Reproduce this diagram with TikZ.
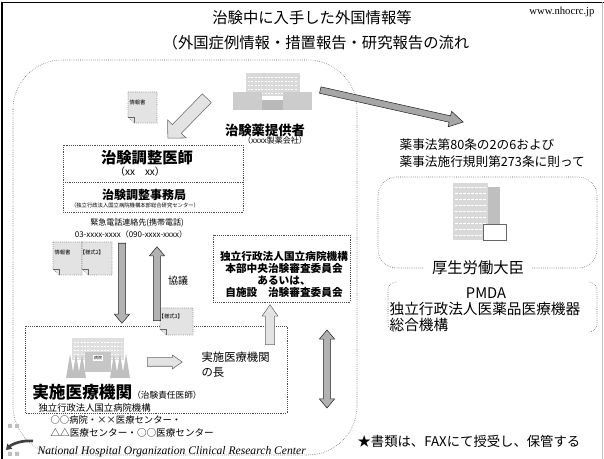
\documentclass[tikz,border=0pt]{standalone}
\usepackage{fontspec}
\setmainfont{Noto Sans CJK JP}
\newfontfamily\webfont{Liberation Serif}
\usetikzlibrary{arrows.meta,shapes.arrows,calc}

\newcommand{\fsz}[1]{\fontsize{#1}{#1}\selectfont}

% fat arrow from one point to another
\newcommand{\blockarrow}[4][]{%
  \path let \p1=($(#4)-(#3)$), \n1={atan2(\y1,\x1)}, \n2={veclen(\x1,\y1)} in
    node[single arrow, anchor=tail, rotate=\n1, minimum height=\n2, #1] (#2) at (#3) {};}
\newcommand{\blockarrows}[4][]{%
  \path let \p1=($(#4)-(#3)$), \n1={atan2(\y1,\x1)}, \n2={veclen(\x1,\y1)} in
    node[double arrow, anchor=center, rotate=\n1, minimum height=\n2, #1] (#2) at ($(#3)!0.5!(#4)$) {};}

% sheet of paper with the corner folded
\newcommand{\docsheet}[6]{%
  \draw[paper] (#2,#3) -- (#4,#3) -- (#4,#5) -- (#2+6,#5) -- (#2,#5-6) -- cycle;
  \draw[black!60] (#2,#5-6) -- (#2+6,#5-6) -- (#2+6,#5);
  \node[font=\fsz{4}] (#1) at ($(#2,#3)!0.33!(#4,#5)$) {#6};}

\begin{document}
\begin{tikzpicture}[x=0.75pt, y=-0.75pt,
  every node/.style={inner sep=1pt},
  dots/.style={densely dotted, draw=black!70},
  paper/.style={densely dotted, draw=black!60, fill=gray!22},
  lite/.style 2 args={single arrow, draw=black!60, fill=gray!22, inner sep=0pt,
    text height=#1, text depth=0pt, minimum width=0pt,
    single arrow head extend=#2, single arrow head indent=0pt},
  dark/.style 2 args={lite={#1}{#2}, draw=black!85, fill=gray!60},
  twoway/.style 2 args={double arrow, draw=black!85, fill=gray!60, inner sep=0pt,
    text height=#1, text depth=0pt, minimum width=0pt,
    double arrow head extend=#2, double arrow head indent=0pt, double arrow tip angle=80}]

\useasboundingbox (0,0) rectangle (604,459);
\draw[line width=1.2pt] (2,459) -- (2,2.5) -- (604,2.5);
\draw[gray!50] (602,2.5) -- (602,459);

\node[font=\fsz{11.5}] (title1) at (312,18) {治験中に入手した外国情報等};
\node[font=\fsz{11.5}] (title2) at (316,43) {（外国症例情報・措置報告・研究報告の流れ};
\node[font=\webfont\fsz{8}] (web) at (562,12) {www.nhocrc.jp};

% trial side
\draw[dots, rounded corners=37pt] (13,60) rectangle (357,455);

% provider building
\fill[gray!30] (246,73) rectangle (300,96);
\foreach \y in {77,81,...,93} \draw[white, dash pattern=on 1.5pt off 1pt] (248,\y) -- (298,\y);
\fill[gray!40] (233,92) rectangle (262,110);
\fill[gray!40] (283,92) rectangle (312,110);
\fill[gray!55] (262,100) rectangle (283,110);
\node[font=\bfseries\fsz{10}] (maker) at (265,130) {治験薬提供者};
\node[font=\fsz{6}] (makerco) at (275,140) {（xxxx製薬会社）};

% coordinating investigator
\draw[dots] (63,145) rectangle (243,212) (63,182) -- (243,182);
\node[font=\bfseries\fsz{11.5}] (coord) at (147,158) {治験調整医師};
\node[font=\fsz{7.5}] (coordname) at (140,172) {（xx　xx）};
\node[font=\bfseries\fsz{9}] (office) at (144,195) {治験調整事務局};
\node[font=\fsz{4}] (officesub) at (135,205) {（独立行政法人国立病院機構本部総合研究センター）};
\node[font=\fsz{6}] (tel) at (137,223) {緊急電話連絡先(携帯電話)};
\node[font=\fsz{6}] (telno) at (131,234) {03-xxxx-xxxx（090-xxxx-xxxx）};

\docsheet{info1}{128}{92}{157}{123}{情報書}
\docsheet{info2}{53}{242}{82}{275}{情報書}
\docsheet{form2}{82}{242}{112}{275}{【様式2】}

% review board
\draw[dots] (213,235) rectangle (350,302);
\node[font=\bfseries\fontsize{8}{9.2}\selectfont, align=center] (irb) at (284,274.5)
  {独立行政法人国立病院機構\\本部中央治験審査委員会\\あるいは、\\自施設　治験審査委員会};

% site
\draw[dots] (25,326) rectangle (287,413);
\fill[gray!25] (72,338) rectangle (124,360);
\foreach \y in {342,346,...,358} \draw[white, dash pattern=on 1.5pt off 1pt] (74,\y) -- (122,\y);
\fill[gray!45] (85,352) rectangle (111,372);
\foreach \x in {66,72,78,110,116,122} \fill[gray!50] (\x,378) -- (\x+4,354) -- (\x+8,378) -- cycle;
\node[font=\fsz{3}, fill=white, inner sep=0.5pt] (hospsign) at (98,358) {病院};
\docsheet{form3}{160}{308}{193}{335}{【様式3】}
\node[font=\fsz{7.5}] (talk) at (178,281) {協議};

\node[font=\fontsize{8.5}{11.25}\selectfont, align=left, anchor=west] (head) at (200,364.5) {実施医療機関\\の長};
\node[anchor=west, inner sep=0pt] (site) at (32,392) {{\bfseries\fsz{12.5}実施医療機関}{\fsz{6.5}（治験責任医師）}};
\node[anchor=west, font=\fsz{7}] (nho) at (37,407.5) {独立行政法人国立病院機構};
\node[anchor=west, font=\fsz{7}, fill=white] (sites1) at (49,420) {○○病院・××医療センター・};
\node[anchor=west, font=\fsz{7.2}] (sites2) at (49,433) {△△医療センター・○○医療センター};

% arrows
\coordinate (provtail) at (207,98);  \coordinate (provtip) at (168,138);
\coordinate (mhlwtail) at (320,90);  \coordinate (mhlwtip) at (463,122);
\coordinate (downtail) at (122,243); \coordinate (downtip) at (122,323);
\coordinate (uptail) at (157,321);   \coordinate (uptip) at (157,247);
\coordinate (headtail) at (147,362); \coordinate (headtip) at (182,362);
\coordinate (irbtail) at (270,345);  \coordinate (irbtip) at (270,305);
\coordinate (bothtop) at (327,330);  \coordinate (bothbot) at (327,408);
\blockarrow[lite={9pt}{5pt}]{arrA}{provtail}{provtip}
\blockarrow[dark={4.5pt}{3.5pt}, single arrow tip angle=60, fill=gray!70]{arrB}{mhlwtail}{mhlwtip}
\blockarrow[dark={5pt}{3pt}, single arrow tip angle=80]{arrC}{downtail}{downtip}
\blockarrow[dark={5pt}{3pt}, single arrow tip angle=80]{arrD}{uptail}{uptip}
\blockarrow[lite={6pt}{2pt}, single arrow tip angle=70]{arrE}{headtail}{headtip}
\blockarrow[lite={6.5pt}{2.5pt}, single arrow tip angle=70]{arrF}{irbtail}{irbtip}
\blockarrows[twoway={5pt}{3pt}]{arrG}{bothtop}{bothbot}

% ministry side
\node[anchor=west, font=\fontsize{9.5}{12.75}\selectfont, align=left] (law) at (398,153.5)
  {薬事法第80条の2の6および\\薬事法施行規則第273条に則って};
\draw[dots, rounded corners=14pt] (378,177) rectangle (597,268);
\fill[gray!30] (453,183) rectangle (488,240);
\foreach \y in {187,193,...,235} \draw[white, dash pattern=on 2pt off 1pt] (455,\y) -- (486,\y);
\fill[gray!50] (488,187) rectangle (500,238);
\draw[black!60, fill=white] (483,224) rectangle (506,240);
\node[font=\fsz{11.5}, fill=white, inner xsep=6pt] (mhlw) at (478,268) {厚生労働大臣};

\draw[dots, rounded corners=6pt] (396,282) -- (388,282) -- (388,332) -- (396,332);
\draw[dots, rounded corners=6pt] (589,282) -- (597,282) -- (597,332) -- (589,332);
\node[font=\fsz{11}] (pmda) at (486,293) {PMDA};
\node[anchor=west, font=\fontsize{11}{11.5}\selectfont, align=left] (pmdafull) at (388,317)
  {独立行政法人医薬品医療機器\\総合機構};

\node[anchor=west, font=\fsz{10}] (note) at (356,441) {★書類は、FAXにて授受し、保管する};

% logo and footer
\fill[gray!50] (8,424) rectangle (12,428) (15,424) rectangle (19,428);
\fill[gray!50] (8,452) rectangle (12,456) (15,452) rectangle (19,456);
\draw[black!75, line width=2pt, -{Triangle[length=4pt,width=5pt]}] (33,441) .. controls (22,440) and (12,444) .. (6,450);
\node[anchor=west, font=\webfont\itshape\fsz{8.7}] (nhocrc) at (36,452) {National Hospital Organization Clinical Research Center};
\end{tikzpicture}
\end{document}
